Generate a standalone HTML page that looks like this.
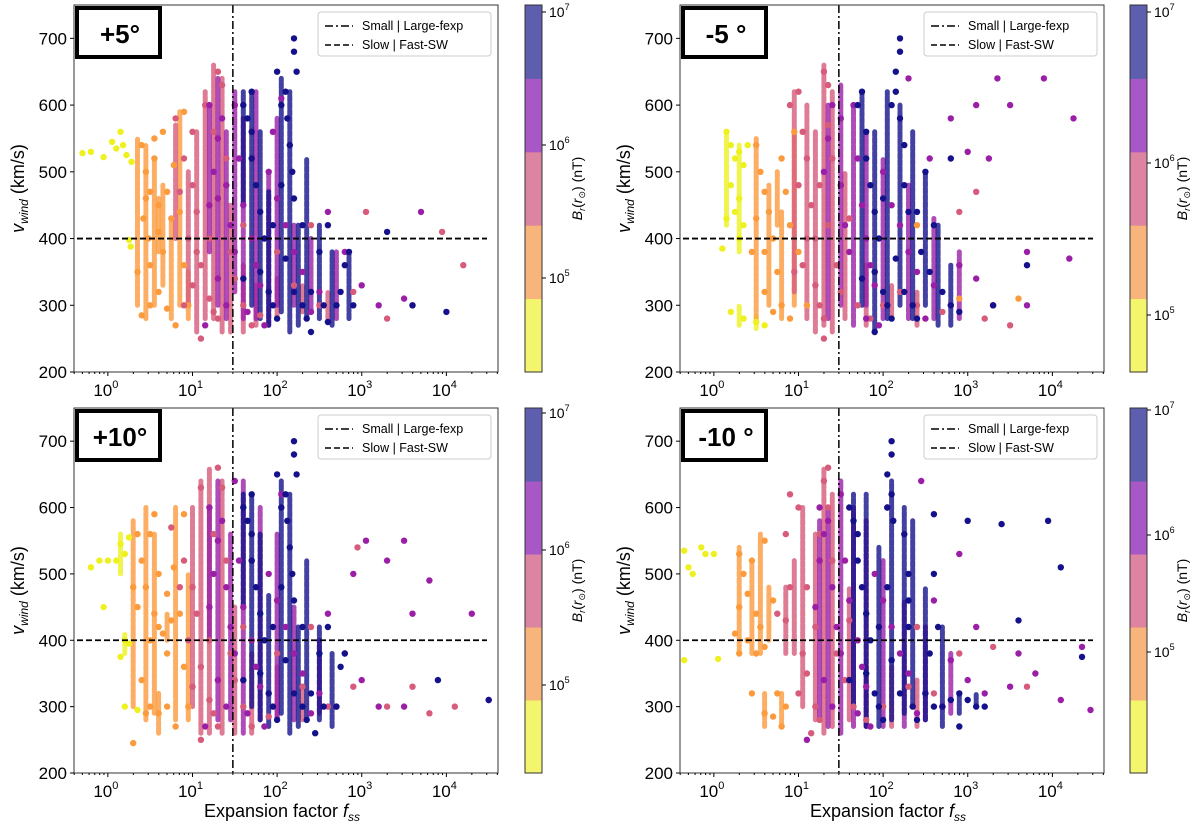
<!DOCTYPE html>
<html><head><meta charset="utf-8"><style>
body{margin:0;background:#fff;}
svg{display:block;font-family:"Liberation Sans","DejaVu Sans",sans-serif;}
</style></head><body>
<svg id="fig" width="1200" height="831" viewBox="0 0 1200 831"></svg>
<script>
// data: [log10 fss, v_wind km/s, colour-band index 0..4]
const panelPlus5 = [[-0.3,528,0],[-0.2,530,0],[-0.05,522,0],[0.05,545,0],[0.1,535,0],[0.18,540,0],[0.22,525,0],[0.15,560,0],[0.28,515,0],[0.25,398,0],[0.27,388,0],
[0.4,540,1],[0.45,500,1],[0.5,470,1],[0.42,430,1],[0.55,520,1],[0.6,450,1],[0.48,400,1],[0.65,380,1],[0.5,300,1],[0.4,285,1],[0.6,320,1],[0.7,295,1],[0.8,270,1],[0.55,550,1],[0.75,430,1],[0.85,440,1],[0.9,360,1],[0.7,470,1],[0.35,350,1],[0.95,300,1],[0.6,410,1],[0.78,510,1],[0.45,460,1],[0.9,590,1],[0.65,560,1],[0.5,360,1],
[0.8,580,2],[0.9,520,2],[1.0,480,2],[1.05,440,2],[0.95,400,2],[1.1,360,2],[1.0,330,2],[0.9,300,2],[1.2,310,2],[1.25,290,2],[1.3,280,2],[1.15,600,2],[1.3,650,2],[1.35,630,2],[1.25,560,2],[1.4,520,2],[1.45,380,2],[1.5,340,2],[1.6,300,2],[1.7,270,2],[1.8,285,2],[2.2,330,2],[2.5,300,2],[2.9,320,2],[3.3,280,2],[3.6,300,2],[1.1,250,2],[1.2,400,2],[1.6,420,2],[2.0,380,2],[2.4,420,2],[3.05,440,2],[3.95,410,2],[4.2,360,2],[1.0,560,2],[0.85,470,2],[1.05,380,2],
[1.2,450,3],[1.25,500,3],[1.3,550,3],[1.2,600,3],[1.35,580,3],[1.4,480,3],[1.45,420,3],[1.5,600,3],[1.55,520,3],[1.6,450,3],[1.7,400,3],[1.75,360,3],[1.8,330,3],[1.65,290,3],[1.85,270,3],[1.9,500,3],[2.0,460,3],[2.1,420,3],[2.2,380,3],[2.3,350,3],[2.5,320,3],[2.7,300,3],[2.8,380,3],[3.0,330,3],[3.2,300,3],[3.5,310,3],[2.4,290,3],[1.5,380,3],[1.3,340,3],[1.4,300,3],[1.95,560,3],[2.05,610,3],[2.6,440,3],[3.7,440,3],[1.15,270,3],[1.3,460,3],
[1.6,600,4],[1.65,580,4],[1.7,560,4],[1.7,520,4],[1.75,480,4],[1.8,440,4],[1.85,400,4],[1.8,350,4],[1.9,320,4],[1.95,300,4],[2.0,280,4],[2.05,600,4],[2.1,620,4],[2.12,580,4],[2.15,540,4],[2.18,500,4],[2.2,460,4],[2.1,370,4],[2.2,320,4],[2.3,300,4],[2.35,280,4],[2.4,320,4],[2.55,300,4],[2.5,380,4],[2.6,420,4],[2.7,300,4],[2.75,320,4],[2.8,360,4],[2.85,380,4],[2.9,300,4],[2.2,700,4],[2.2,680,4],[2.23,650,4],[2.05,480,4],[1.95,420,4],[1.6,340,4],[2.3,420,4],[2.6,275,4],[2.4,260,4],[3.3,410,4],[4.0,290,4],[3.6,300,4],[2.0,650,4],[1.7,620,4]];

const panelMinus5 = [[0.15,560,0],[0.2,540,0],[0.25,520,0],[0.3,530,0],[0.35,510,0],[0.4,540,0],[0.2,480,0],[0.3,460,0],[0.25,440,0],[0.15,430,0],[0.35,420,0],[0.3,400,0],[0.1,385,0],[0.2,290,0],[0.35,280,0],[0.5,275,0],[0.6,270,0],
[0.5,540,1],[0.55,500,1],[0.6,470,1],[0.5,430,1],[0.65,440,1],[0.7,400,1],[0.6,380,1],[0.75,350,1],[0.8,300,1],[0.7,290,1],[0.6,320,1],[0.9,280,1],[0.85,470,1],[0.8,520,1],[0.95,560,1],[0.9,420,1],[1.0,380,1],[0.45,380,1],[1.1,300,1],[2.4,420,1],[2.9,310,1],[3.6,310,1],
[0.9,600,2],[1.0,620,2],[1.05,560,2],[1.1,520,2],[1.0,480,2],[1.15,450,2],[1.1,400,2],[1.05,360,2],[1.2,330,2],[1.25,300,2],[1.3,280,2],[1.3,650,2],[1.35,630,2],[1.35,570,2],[1.4,520,2],[1.25,480,2],[1.45,360,2],[1.5,320,2],[1.7,300,2],[1.85,280,2],[2.0,300,2],[2.2,320,2],[2.4,300,2],[2.7,290,2],[3.2,280,2],[3.5,270,2],[1.3,250,2],[1.2,400,2],[1.6,430,2],[1.9,350,2],[3.1,470,2],[2.9,440,2],[0.95,350,2],[1.35,420,2],
[1.3,500,3],[1.35,550,3],[1.4,600,3],[1.5,580,3],[1.5,480,3],[1.55,420,3],[1.65,600,3],[1.7,520,3],[1.75,450,3],[1.8,400,3],[1.85,360,3],[1.9,330,3],[1.8,280,3],[1.95,270,3],[2.0,500,3],[2.1,450,3],[2.2,420,3],[2.3,380,3],[2.4,350,3],[2.6,330,3],[2.8,300,3],[2.9,360,3],[3.1,340,3],[3.3,300,3],[3.7,300,3],[2.5,280,3],[1.6,380,3],[2.55,520,3],[2.8,580,3],[3.1,600,3],[3.35,640,3],[3.9,640,3],[3.5,600,3],[4.25,580,3],[3.0,530,3],[3.25,520,3],[3.7,380,3],[4.2,370,3],[2.3,640,3],
[1.7,600,4],[1.75,620,4],[1.8,560,4],[1.8,520,4],[1.85,480,4],[1.9,440,4],[1.95,400,4],[1.9,350,4],[2.0,320,4],[2.05,300,4],[2.1,280,4],[2.1,600,4],[2.15,620,4],[2.2,580,4],[2.25,540,4],[2.25,480,4],[2.3,440,4],[2.15,370,4],[2.25,320,4],[2.35,300,4],[2.4,280,4],[2.45,380,4],[2.55,350,4],[2.6,420,4],[2.7,320,4],[2.8,300,4],[2.9,290,4],[2.2,700,4],[2.2,680,4],[2.15,650,4],[2.0,460,4],[1.75,340,4],[2.4,440,4],[1.9,260,4],[3.3,300,4],[3.7,360,4],[2.5,500,4],[2.8,520,4]];

const panelPlus10 = [[-0.2,510,0],[-0.1,520,0],[0.0,520,0],[0.15,545,0],[0.2,530,0],[0.25,555,0],[0.1,520,0],[0.2,400,0],[0.25,395,0],[0.15,375,0],[-0.05,450,0],[0.2,300,0],[0.35,295,0],
[0.35,560,1],[0.4,520,1],[0.45,480,1],[0.35,450,1],[0.5,560,1],[0.55,440,1],[0.6,420,1],[0.65,410,1],[0.5,400,1],[0.7,380,1],[0.5,300,1],[0.45,290,1],[0.6,290,1],[0.7,300,1],[0.8,270,1],[0.55,590,1],[0.75,430,1],[0.85,440,1],[0.9,360,1],[0.7,470,1],[0.3,480,1],[0.95,300,1],[0.6,500,1],[0.78,510,1],[0.9,590,1],[0.4,340,1],[0.3,245,1],
[0.75,570,2],[0.9,520,2],[1.0,480,2],[1.05,440,2],[0.95,400,2],[1.1,360,2],[1.0,330,2],[1.2,310,2],[1.25,290,2],[1.3,270,2],[1.1,630,2],[1.3,660,2],[1.35,630,2],[1.25,560,2],[1.4,520,2],[1.45,380,2],[1.5,340,2],[1.6,300,2],[1.7,270,2],[1.9,285,2],[2.3,330,2],[2.6,300,2],[2.9,330,2],[3.3,300,2],[3.8,290,2],[1.1,250,2],[1.2,400,2],[1.6,420,2],[2.0,380,2],[2.4,420,2],[2.95,540,2],[4.1,300,2],[3.6,330,2],[0.85,480,2],
[1.2,450,3],[1.25,500,3],[1.3,550,3],[1.2,600,3],[1.35,580,3],[1.4,480,3],[1.45,420,3],[1.5,640,3],[1.55,520,3],[1.6,450,3],[1.7,400,3],[1.75,360,3],[1.8,330,3],[1.65,290,3],[1.85,270,3],[1.9,500,3],[2.0,460,3],[2.1,420,3],[2.2,380,3],[2.3,350,3],[2.5,320,3],[2.7,300,3],[2.8,380,3],[3.0,340,3],[3.2,300,3],[3.5,300,3],[2.4,290,3],[1.5,380,3],[1.3,340,3],[1.4,300,3],[2.05,620,3],[2.6,440,3],[3.05,550,3],[3.5,550,3],[3.3,520,3],[3.8,490,3],[4.3,440,3],[3.6,440,3],[2.9,500,3],[1.15,270,3],[4.5,310,3],
[1.6,600,4],[1.65,580,4],[1.7,560,4],[1.7,520,4],[1.75,480,4],[1.8,440,4],[1.85,400,4],[1.8,350,4],[1.9,320,4],[1.95,300,4],[2.0,280,4],[2.05,600,4],[2.1,620,4],[2.12,580,4],[2.15,540,4],[2.18,500,4],[2.2,460,4],[2.1,370,4],[2.2,320,4],[2.3,300,4],[2.35,280,4],[2.4,320,4],[2.55,300,4],[2.5,380,4],[2.6,420,4],[2.7,300,4],[2.75,360,4],[2.8,380,4],[2.2,700,4],[2.2,680,4],[2.23,650,4],[2.05,480,4],[1.95,420,4],[1.6,340,4],[2.3,420,4],[2.45,260,4],[3.9,340,4],[4.5,310,4],[2.0,650,4],[1.7,620,4]];

const panelMinus10 = [[-0.35,535,0],[-0.3,510,0],[-0.25,500,0],[-0.15,540,0],[-0.1,530,0],[0.0,530,0],[-0.35,370,0],[0.05,372,0],
[0.3,530,1],[0.35,500,1],[0.4,470,1],[0.3,450,1],[0.45,520,1],[0.5,440,1],[0.55,420,1],[0.4,400,1],[0.6,390,1],[0.3,380,1],[0.45,320,1],[0.6,290,1],[0.7,285,1],[0.8,270,1],[0.6,550,1],[0.7,460,1],[0.85,300,1],[0.75,320,1],[0.5,380,1],[0.25,410,1],
[0.75,440,2],[0.85,430,2],[0.9,480,2],[0.85,560,2],[1.0,600,2],[1.05,380,2],[1.1,350,2],[1.0,320,2],[1.2,300,2],[1.25,280,2],[1.3,640,2],[1.35,660,2],[1.35,600,2],[1.25,560,2],[1.4,520,2],[1.45,380,2],[1.55,340,2],[1.65,300,2],[1.8,280,2],[2.0,300,2],[2.3,330,2],[2.6,320,2],[2.9,380,2],[3.3,390,2],[3.7,330,2],[1.15,260,2],[1.2,420,2],[1.6,430,2],[2.4,420,2],[0.9,620,2],[1.1,480,2],
[1.2,450,3],[1.25,520,3],[1.3,560,3],[1.25,600,3],[1.35,580,3],[1.4,480,3],[1.45,420,3],[1.5,620,3],[1.55,520,3],[1.6,460,3],[1.7,400,3],[1.75,360,3],[1.8,330,3],[1.7,290,3],[1.85,270,3],[1.9,500,3],[2.0,460,3],[2.1,420,3],[2.2,380,3],[2.3,350,3],[2.5,320,3],[2.7,300,3],[2.8,370,3],[3.0,340,3],[3.2,320,3],[3.5,330,3],[2.4,290,3],[1.5,380,3],[1.3,340,3],[1.4,300,3],[2.05,600,3],[2.6,460,3],[3.1,420,3],[3.6,380,3],[3.8,350,3],[4.1,310,3],[4.35,390,3],[4.45,295,3],[2.9,530,3],[2.45,640,3],[1.1,250,3],
[1.6,600,4],[1.65,580,4],[1.7,560,4],[1.7,520,4],[1.75,480,4],[1.8,440,4],[1.85,400,4],[1.8,350,4],[1.9,320,4],[1.95,300,4],[2.0,280,4],[2.05,600,4],[2.1,620,4],[2.12,580,4],[2.25,560,4],[2.3,500,4],[2.3,460,4],[2.1,370,4],[2.2,320,4],[2.35,300,4],[2.4,280,4],[2.5,320,4],[2.6,300,4],[2.55,380,4],[2.65,420,4],[2.7,300,4],[2.8,310,4],[2.9,320,4],[3.0,310,4],[3.1,300,4],[3.2,300,4],[2.9,270,4],[2.1,700,4],[2.1,680,4],[2.05,650,4],[2.05,480,4],[1.95,420,4],[1.6,340,4],[2.3,420,4],[2.6,590,4],[3.0,580,4],[3.4,575,4],[3.95,580,4],[4.1,510,4],[4.35,375,4],[3.6,430,4],[2.6,500,4]];

// streamline tracks: [log10 fss, v_low, v_high, colour-band index]
const tracksPlus5 = [[0.35,300,550,1],[0.45,280,540,1],[0.55,300,520,1],[0.65,330,480,1],[0.75,280,430,1],[0.85,300,590,1],[0.6,380,460,1],[0.95,280,350,1],
[0.8,400,570,2],[0.95,300,500,2],[1.05,260,560,2],[1.15,280,620,2],[1.25,280,660,2],[1.35,260,640,2],[1.45,260,450,2],[1.6,260,360,2],[1.75,270,330,2],[2.0,280,340,2],[2.3,290,330,2],[2.6,280,320,2],
[1.2,380,600,3],[1.3,300,640,3],[1.4,280,560,3],[1.5,320,620,3],[1.6,280,580,3],[1.75,280,620,3],[1.9,270,500,3],[2.0,300,580,3],[2.2,300,420,3],[2.4,290,400,3],[2.7,280,380,3],
[1.6,450,620,4],[1.7,300,620,4],[1.8,280,560,4],[1.9,270,470,4],[2.05,290,640,4],[2.15,260,620,4],[2.25,270,420,4],[2.35,280,520,4],[2.5,280,420,4],[2.65,270,380,4],[2.85,280,380,4]];
const tracksMinus5 = [[0.15,420,560,0],[0.3,380,540,0],[0.3,270,300,0],[0.5,265,285,0],
[0.5,280,550,1],[0.65,300,480,1],[0.8,280,440,1],[0.95,300,560,1],[0.75,420,500,1],
[0.95,320,620,2],[1.1,280,600,2],[1.2,260,560,2],[1.3,270,660,2],[1.4,260,620,2],[1.55,280,500,2],[1.8,270,360,2],[2.1,280,330,2],[2.4,270,320,2],
[1.35,280,600,3],[1.5,300,630,3],[1.65,270,600,3],[1.8,300,560,3],[2.0,280,520,3],[2.3,280,480,3],[2.6,280,430,3],[2.9,280,380,3],
[1.75,300,620,4],[1.9,260,560,4],[2.05,280,620,4],[2.2,300,600,4],[2.35,280,560,4],[2.5,300,500,4],[2.65,270,420,4],[2.8,270,360,4]];
const tracksPlus10 = [[0.15,500,560,0],[0.2,380,410,0],
[0.3,300,580,1],[0.45,280,600,1],[0.55,290,560,1],[0.7,400,440,1],[0.8,280,600,1],[0.95,280,500,1],[0.6,260,320,1],
[1.0,300,600,2],[1.1,260,640,2],[1.2,260,660,2],[1.35,260,640,2],[1.5,260,450,2],[1.7,260,380,2],[2.0,280,360,2],[2.3,280,330,2],
[1.2,400,600,3],[1.3,280,640,3],[1.45,280,560,3],[1.6,260,640,3],[1.8,280,600,3],[2.0,280,560,3],[2.2,280,450,3],[2.5,290,400,3],
[1.6,450,620,4],[1.7,300,620,4],[1.8,280,560,4],[1.9,270,470,4],[2.05,290,640,4],[2.15,260,620,4],[2.25,270,420,4],[2.35,280,520,4],[2.5,280,420,4],[2.65,270,380,4]];
const tracksMinus10 = [[0.3,380,540,1],[0.45,380,520,1],[0.55,380,560,1],[0.65,400,480,1],[0.6,270,320,1],[0.8,270,320,1],
[0.85,380,480,2],[0.95,380,520,2],[1.05,300,600,2],[1.2,280,560,2],[1.3,260,660,2],[1.4,270,620,2],[1.6,280,480,2],[1.8,270,360,2],[2.1,270,360,2],[2.4,270,340,2],
[1.25,280,580,3],[1.35,270,600,3],[1.5,260,640,3],[1.65,270,600,3],[1.8,270,580,3],[2.0,270,520,3],[2.25,270,460,3],[2.5,280,420,3],[2.8,290,380,3],
[1.65,300,620,4],[1.8,270,620,4],[1.95,270,540,4],[2.1,280,640,4],[2.25,290,600,4],[2.35,300,580,4],[2.5,280,480,4],[2.7,270,420,4],[2.9,290,320,4],[3.1,300,320,4]];

const panelTitles = ["+5°","-5 °","+10°","-10 °"];
const yTicks = [200,300,400,500,600,700];
const xTickExps = [0,1,2,3,4];
const cbarTickExps = [[5,6,7],[5,6,7],[5,6,7],[5,6,7]];
const cbarTickPos = [[278,145,12],[315,163,12],[685,550,413],[652,535,410]];
const fexpThreshold = 30;
const vThreshold = 400;
const pointColors = ["#eef11f","#fb9b3d","#d75b7b","#9a1fa6","#14118a"];
const barColors = ["#f3f56c","#f7b57c","#dc84a1","#a758c6","#5d5eae"];

const NS="http://www.w3.org/2000/svg";
const svg=document.getElementById('fig');
function mk(tag,attrs,parent){const e=document.createElementNS(NS,tag);for(const k in attrs)e.setAttribute(k,attrs[k]);(parent||svg).appendChild(e);return e;}

const layouts=[
 {x0:74,x1:498,y0:5,y1:372,cb:525,data:panelPlus5,tracks:tracksPlus5,xl:false},
 {x0:680,x1:1104,y0:5,y1:372,cb:1130,data:panelMinus5,tracks:tracksMinus5,xl:false},
 {x0:74,x1:498,y0:408,y1:773,cb:525,data:panelPlus10,tracks:tracksPlus10,xl:true},
 {x0:680,x1:1104,y0:408,y1:773,cb:1130,data:panelMinus10,tracks:tracksMinus10,xl:true}];
const LMIN=-0.4,LMAX=4.61,VMIN=200,VMAX=750;

layouts.forEach((L,pi)=>{
 const g=mk('g',{});
 
 
 const X=lf=>L.x0+(lf-LMIN)/(LMAX-LMIN)*(L.x1-L.x0);
 const Y=v=>L.y1-(v-VMIN)/(VMAX-VMIN)*(L.y1-L.y0);
 // tracks
 const tg=mk('g',{},g);
 
 
 L.tracks.forEach(t=>{
  const ln=mk('line',{x1:X(t[0]).toFixed(1),x2:X(t[0]).toFixed(1),y1:Y(t[1]).toFixed(1),y2:Y(t[2]).toFixed(1),stroke:pointColors[t[3]],'stroke-width':5,'stroke-linecap':'round','stroke-dasharray':'5 2','stroke-opacity':0.8},tg);
  
  
 });
 // points
 const pg=mk('g',{},g);
 
 
 L.data.forEach(d=>{
  const c=mk('circle',{cx:X(d[0]).toFixed(1),cy:Y(d[1]).toFixed(1),r:3.2,fill:pointColors[d[2]]},pg);
  
  
 });
 // threshold lines
 const vl=mk('line',{x1:X(Math.log10(fexpThreshold)),x2:X(Math.log10(fexpThreshold)),y1:L.y0,y2:L.y1,stroke:'#000','stroke-width':1.5,'stroke-dasharray':'8 3 2 3'},g);
 
 
 const hl=mk('line',{x1:L.x0+3,x2:L.x1-11,y1:Y(vThreshold),y2:Y(vThreshold),stroke:'#000','stroke-width':1.8,'stroke-dasharray':'6 3'},g);
 
 
 // frame
 const fr=mk('rect',{x:L.x0,y:L.y0,width:L.x1-L.x0,height:L.y1-L.y0,fill:'none',stroke:'#333','stroke-width':1},g);
 
 
 // y ticks
 yTicks.forEach(t=>{
  mk('line',{x1:L.x0-4,x2:L.x0,y1:Y(t),y2:Y(t),stroke:'#000'},g);
  const tx=mk('text',{x:L.x0-7,y:Y(t)+6,'text-anchor':'end','font-size':17,fill:'#000'},g);
  tx.textContent=t;
  
  
 });
 // x ticks
 xTickExps.forEach(e=>{
  mk('line',{x1:X(e),x2:X(e),y1:L.y1,y2:L.y1+4,stroke:'#000'},g);
  for(let k=2;k<10;k++){const lv=e+Math.log10(k);if(lv<LMAX)mk('line',{x1:X(lv),x2:X(lv),y1:L.y1,y2:L.y1+2,stroke:'#000'},g);}
  const tx=mk('text',{x:X(e)-2,y:L.y1+24,'text-anchor':'middle','font-size':17,fill:'#000'},g);
  tx.innerHTML='10<tspan font-size="11" dy="-8">'+e+'</tspan>';
  
  
 });
 for(let k=4;k<10;k++){const lv=-1+Math.log10(k);if(lv>LMIN)mk('line',{x1:X(lv),x2:X(lv),y1:L.y1,y2:L.y1+2,stroke:'#000'},g);}
 // y label
 const yc=(L.y0+L.y1)/2;
 const yl=mk('text',{x:0,y:0,transform:`translate(${L.x0-50},${yc}) rotate(-90)`,'text-anchor':'middle','font-size':18,fill:'#000'},g);
 yl.innerHTML='<tspan font-style="italic">v</tspan><tspan font-size="12" dy="4" font-style="italic">wind</tspan><tspan dy="-4"> (km/s)</tspan>';
 
 
 if(L.xl){
  const xl=mk('text',{x:(L.x0+L.x1)/2-4,y:L.y1+44,'text-anchor':'middle','font-size':18,fill:'#000'},g);
  xl.innerHTML='Expansion factor <tspan font-style="italic">f</tspan><tspan font-size="12" dy="4" font-style="italic">ss</tspan>';
  
  
 }
 // title box
 const tb=mk('rect',{x:L.x0+3,y:L.y0+3,width:83,height:49,fill:'#fff',stroke:'#000','stroke-width':4},g);
 
 
 const tt=mk('text',{x:L.x0+46,y:L.y0+38,'text-anchor':'middle','font-size':26,'font-weight':'bold',fill:'#000'},g);
 tt.textContent=panelTitles[pi];
 
 
 // legend
 const lx=L.x1-180, ly=L.y0+7;
 const lg=mk('g',{},g);
 
 
 mk('rect',{x:lx,y:ly,width:173,height:44,rx:3,fill:'#fff','fill-opacity':0.85,stroke:'#ccc'},lg);
 mk('line',{x1:lx+7,x2:lx+35,y1:ly+14,y2:ly+14,stroke:'#000','stroke-width':1.5,'stroke-dasharray':'8 3 2 3'},lg);
 mk('line',{x1:lx+7,x2:lx+35,y1:ly+33,y2:ly+33,stroke:'#000','stroke-width':1.5,'stroke-dasharray':'6 3'},lg);
 const t1=mk('text',{x:lx+44,y:ly+18,'font-size':12.5,fill:'#000'},lg);t1.textContent='Small | Large-fexp';
 
 
 const t2=mk('text',{x:lx+44,y:ly+37,'font-size':12.5,fill:'#000'},lg);t2.textContent='Slow | Fast-SW';
 
 
 // colorbar
 const cbg=mk('g',{},g);
 
 
 const bh=(L.y1-L.y0)/5;
 barColors.forEach((c,i)=>{mk('rect',{x:L.cb,y:L.y1-(i+1)*bh,width:17,height:bh+0.5,fill:c},cbg);});
 mk('rect',{x:L.cb,y:L.y0,width:17,height:L.y1-L.y0,fill:'none',stroke:'#333'},cbg);
 cbarTickExps[pi].forEach((e,j)=>{
  const yy=cbarTickPos[pi][j];
  mk('line',{x1:L.cb+17,x2:L.cb+21,y1:yy,y2:yy,stroke:'#000'},cbg);
  const tx=mk('text',{x:L.cb+24,y:yy+5,'font-size':14,fill:'#000'},cbg);
  tx.innerHTML='10<tspan font-size="9" dy="-7">'+e+'</tspan>';
  
  
 });
 const cl=mk('text',{x:0,y:0,transform:`translate(${L.cb+57},${yc}) rotate(-90)`,'text-anchor':'middle','font-size':14,fill:'#000'},cbg);
 cl.innerHTML='<tspan font-style="italic">B</tspan><tspan font-size="9" dy="3" font-style="italic">r</tspan><tspan dy="-3">(</tspan><tspan font-style="italic">r</tspan><tspan font-size="9" dy="3">⊙</tspan><tspan dy="-3">) (nT)</tspan>';
 
 
});
</script>
</body></html>
